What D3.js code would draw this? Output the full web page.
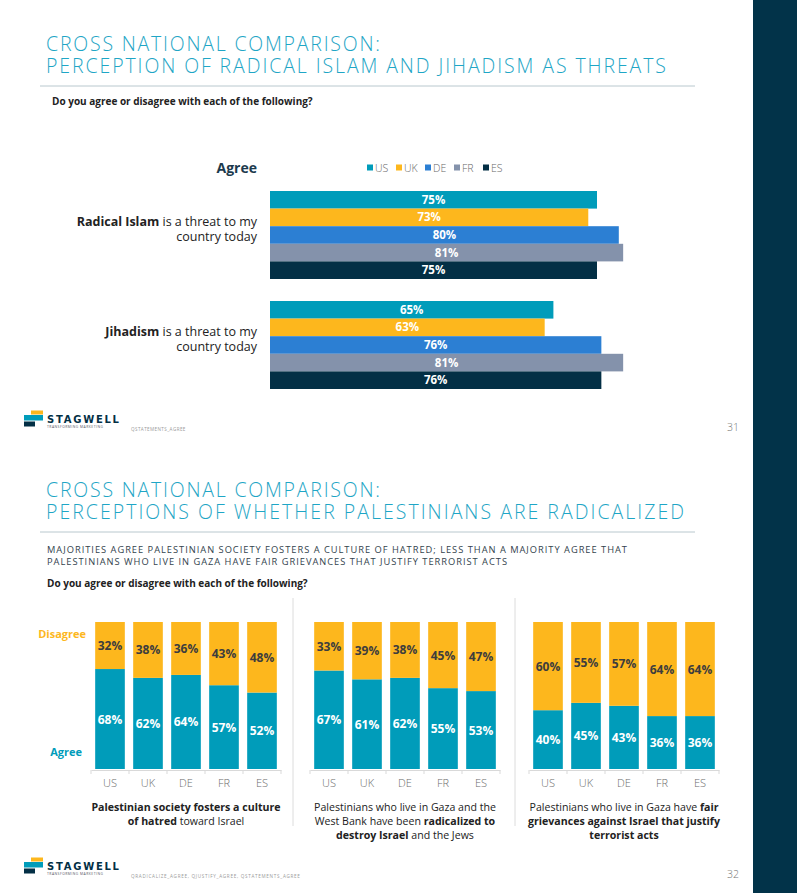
<!DOCTYPE html>
<html>
<head>
<meta charset="utf-8">
<script src="https://cdn.jsdelivr.net/npm/d3@7"></script>
<style>
  html, body { margin: 0; padding: 0; background: #fff; }
  svg { display: block; }
  text { font-family: "Open Sans", "Noto Sans", sans-serif; }
</style>
</head>
<body>
<svg id="chart" width="797" height="893"></svg>
<script>
// ---------------- DATA ----------------
const countries = ["US", "UK", "DE", "FR", "ES"];
const countryColors = ["#009cba", "#fdb71d", "#2c7fd3", "#8492ab", "#032f45"];

const threatStatements = ["Radical Islam", "Jihadism"];
const radicalIslamAgree = [75, 73, 80, 81, 75];
const jihadismAgree = [65, 63, 76, 81, 76];

const cultureAgree = [68, 62, 64, 57, 52];
const cultureDisagree = [32, 38, 36, 43, 48];
const radicalizedAgree = [67, 61, 62, 55, 53];
const radicalizedDisagree = [33, 39, 38, 45, 47];
const grievancesAgree = [40, 45, 43, 36, 36];
const grievancesDisagree = [60, 55, 57, 64, 64];

const pageTitles1 = ["CROSS NATIONAL COMPARISON:", "PERCEPTION OF RADICAL ISLAM AND JIHADISM AS THREATS"];
const pageTitles2 = ["CROSS NATIONAL COMPARISON:", "PERCEPTIONS OF WHETHER PALESTINIANS ARE RADICALIZED"];
const subtitle2 = ["MAJORITIES AGREE PALESTINIAN SOCIETY FOSTERS A CULTURE OF HATRED; LESS THAN A MAJORITY AGREE THAT",
                   "PALESTINIANS WHO LIVE IN GAZA HAVE FAIR GRIEVANCES THAT JUSTIFY TERRORIST ACTS"];
const question = "Do you agree or disagree with each of the following?";

// caption lines: arrays of [text, bold]
const captions = [
  [[["Palestinian society fosters a culture", true]], [["of hatred", true], [" toward Israel", false]]],
  [[["Palestinians who live in Gaza and the", false]], [["West Bank have been ", false], ["radicalized to", true]], [["destroy Israel", true], [" and the Jews", false]]],
  [[["Palestinians who live in Gaza have ", false], ["fair", true]], [["grievances against Israel that justify", true]], [["terrorist acts", true]]]
];

// ---------------- DRAW ----------------
const svg = d3.select("#chart");
const TEAL = "#1fa6c6", NAVY = "#032f45", ORANGE = "#fdb71d", AGREE = "#009cba";

svg.append("rect").attr("x", 753).attr("y", 0).attr("width", 44).attr("height", 893).attr("fill", "#023349");

// widen text to a target width by letter spacing (keeps font size)
function spreadText(sel, w) {
  const len = sel.node().getComputedTextLength();
  const n = sel.text().length;
  if (len < w && n > 1) sel.attr("letter-spacing", (w - len) / (n - 1));
}

function header(titles, y0, widths) {
  const tx = svg.append("text").attr("font-size", 19.5).attr("font-weight", 300).attr("fill", TEAL);
  titles.forEach((t, i) => {
    const ts = tx.append("tspan").attr("x", 46).attr("y", y0 + i * 22.5).text(t);
    spreadText(ts, widths[i]);
  });
  svg.append("line").attr("x1", 40).attr("x2", 695).attr("y1", y0 + 35.5).attr("y2", y0 + 35.5)
    .attr("stroke", "#b9c8ce").attr("stroke-width", 1);
}

function footer(y, code, page) {
  const g = svg.append("g").attr("transform", `translate(25,${y})`);
  g.append("rect").attr("x", 6).attr("y", 0.5).attr("width", 12).attr("height", 4).attr("fill", ORANGE);
  g.append("rect").attr("x", -1).attr("y", 5).attr("width", 19).attr("height", 5.5).attr("fill", AGREE);
  g.append("rect").attr("x", -1).attr("y", 11.5).attr("width", 11).attr("height", 5).attr("fill", NAVY);
  const lt = g.append("text").attr("fill", NAVY);
  const s1 = lt.append("tspan").attr("x", 22).attr("y", 13).attr("font-size", 10)
    .attr("font-family", "'DejaVu Sans', sans-serif").attr("font-weight", 700).text("STAGWELL");
  spreadText(s1, 72);
  const s2 = lt.append("tspan").attr("x", 22).attr("y", 17.8).attr("font-size", 3.4).attr("font-weight", 400)
    .attr("fill", "#556").text("TRANSFORMING MARKETING");
  spreadText(s2, 56);
  const ct = svg.append("text").attr("x", 131).attr("y", y + 20.5).attr("font-size", 4.6).attr("fill", "#9a9a9a").text(code);
  spreadText(ct, code.length * 3.2);
  svg.append("text").attr("x", 727).attr("y", y + 21).attr("font-size", 10.5).attr("font-weight", 300)
    .attr("fill", "#777").text(page);
}

// ===== Page 1 =====
header(pageTitles1, 50.5, [334, 620]);
svg.append("text").attr("x", 52).attr("y", 105).attr("font-size", 10).attr("font-weight", 700)
  .attr("fill", "#222").text(question);

svg.append("text").attr("x", 257).attr("y", 173).attr("text-anchor", "end")
  .attr("font-size", 14).attr("font-weight", 700).attr("fill", "#1c3a4d").text("Agree");

// legend
const legend = svg.append("g");
countries.forEach((c, i) => {
  const lx = 367 + i * 29;
  legend.append("rect").attr("x", lx).attr("y", 164.5).attr("width", 6).attr("height", 6).attr("fill", countryColors[i]);
  legend.append("text").attr("x", lx + 8).attr("y", 171.5).attr("font-size", 10.5).attr("font-weight", 300)
    .attr("fill", "#666").text(c);
});

const xH = d3.scaleLinear().domain([0, 100]).range([270, 706]);
const yGroup = d3.scaleBand().domain(threatStatements).range([191, 389]).paddingInner(0.2).paddingOuter(0);
const yInner = d3.scaleBand().domain(countries).range([0, yGroup.bandwidth()]);
const threatValues = [radicalIslamAgree, jihadismAgree];

threatStatements.forEach((s, gi) => {
  const g = svg.append("g").attr("transform", `translate(0,${yGroup(s)})`);
  const data = countries.map((c, i) => ({ c, v: threatValues[gi][i], color: countryColors[i] }));
  g.selectAll("rect").data(data).join("rect")
    .attr("x", xH(0)).attr("y", d => yInner(d.c))
    .attr("width", d => xH(d.v) - xH(0)).attr("height", yInner.bandwidth())
    .attr("fill", d => d.color);
  g.selectAll("text.v").data(data).join("text").attr("class", "v")
    .attr("x", d => (xH(0) + xH(d.v)) / 2).attr("y", d => yInner(d.c) + yInner.bandwidth() / 2 + 4)
    .attr("text-anchor", "middle").attr("font-size", 11.5).attr("font-weight", 700).attr("fill", "#fff")
    .text(d => d.v + "%");
  // category label
  const cy = yGroup(s) + yGroup.bandwidth() / 2;
  const t1 = svg.append("text").attr("text-anchor", "end").attr("font-size", 12.5).attr("fill", "#222");
  const l1 = t1.append("tspan").attr("x", 257).attr("y", cy - 9);
  l1.append("tspan").attr("font-weight", 700).text(s);
  l1.append("tspan").attr("font-weight", 400).text(" is a threat to my");
  t1.append("tspan").attr("x", 257).attr("y", cy + 6).attr("font-weight", 400).text("country today");
});

footer(410, "QSTATEMENTS_AGREE", "31");

// ===== Page 2 =====
header(pageTitles2, 496.5, [334, 638]);
const st = svg.append("text").attr("font-size", 9.3).attr("font-weight", 400).attr("fill", "#33434d");
subtitle2.forEach((t, i) => {
  const ts = st.append("tspan").attr("x", 47).attr("y", 552.5 + i * 12).text(t);
  spreadText(ts, i === 0 ? 580 : 460);
});
svg.append("text").attr("x", 47).attr("y", 587).attr("font-size", 10).attr("font-weight", 700)
  .attr("fill", "#222").text(question);

// separators
[293, 515].forEach(x => svg.append("line").attr("x1", x).attr("x2", x).attr("y1", 598).attr("y2", 826)
  .attr("stroke", "#dcdcdc").attr("stroke-width", 1));

svg.append("text").attr("x", 86).attr("y", 638).attr("text-anchor", "end").attr("font-size", 11)
  .attr("font-weight", 700).attr("fill", ORANGE).text("Disagree");
svg.append("text").attr("x", 82).attr("y", 756).attr("text-anchor", "end").attr("font-size", 11)
  .attr("font-weight", 700).attr("fill", AGREE).text("Agree");

const yS = d3.scaleLinear().domain([0, 100]).range([769, 622]);
const panels = [
  { agree: cultureAgree, disagree: cultureDisagree },
  { agree: radicalizedAgree, disagree: radicalizedDisagree },
  { agree: grievancesAgree, disagree: grievancesDisagree }
];

panels.forEach((p, pi) => {
  const x0 = 91 + pi * 219;
  const x = d3.scaleBand().domain(countries).range([x0, x0 + 190]).paddingInner(0.22).paddingOuter(0.11);
  const g = svg.append("g");
  const data = countries.map((c, i) => ({ c, a: p.agree[i], d: p.disagree[i] }));
  // agree
  g.selectAll("rect.a").data(data).join("rect").attr("class", "a")
    .attr("x", d => x(d.c)).attr("width", x.bandwidth())
    .attr("y", d => yS(d.a)).attr("height", d => yS(0) - yS(d.a)).attr("fill", AGREE);
  // disagree
  g.selectAll("rect.d").data(data).join("rect").attr("class", "d")
    .attr("x", d => x(d.c)).attr("width", x.bandwidth())
    .attr("y", d => yS(d.a + d.d)).attr("height", d => yS(d.a) - yS(d.a + d.d)).attr("fill", ORANGE);
  g.selectAll("text.a").data(data).join("text").attr("class", "a")
    .attr("x", d => x(d.c) + x.bandwidth() / 2).attr("y", d => (yS(0) + yS(d.a)) / 2 + 4.5)
    .attr("text-anchor", "middle").attr("font-size", 12).attr("font-weight", 700).attr("fill", "#fff")
    .text(d => d.a + "%");
  g.selectAll("text.d").data(data).join("text").attr("class", "d")
    .attr("x", d => x(d.c) + x.bandwidth() / 2).attr("y", d => (yS(d.a) + yS(d.a + d.d)) / 2 + 4.5)
    .attr("text-anchor", "middle").attr("font-size", 12).attr("font-weight", 700).attr("fill", "#3d3d3d")
    .text(d => d.d + "%");
  // axis
  const axis = d3.axisBottom(x).tickSize(0).tickPadding(9);
  const ag = svg.append("g").attr("transform", `translate(0,${yS(0) + 1})`).call(axis);
  ag.select(".domain").attr("stroke", "#d9d9d9");
  ag.selectAll("text").attr("font-size", 11).attr("font-weight", 300).attr("fill", "#6d6d6d")
    .attr("font-family", "'Open Sans', sans-serif");
  const step = x.step();
  d3.range(6).forEach(i => {
    const tx = x0 + i * step;
    ag.append("line").attr("x1", tx).attr("x2", tx).attr("y1", 0).attr("y2", 4).attr("stroke", "#d9d9d9");
  });
  // caption (one text element, one tspan per line)
  const cx = x0 + 95;
  const t = svg.append("text").attr("text-anchor", "middle").attr("font-size", 10.6).attr("fill", "#222");
  captions[pi].forEach((line, li) => {
    const lt = t.append("tspan").attr("x", cx).attr("y", 811 + li * 14);
    line.forEach(([s, b]) => lt.append("tspan").attr("font-weight", b ? 700 : 400).text(s));
  });
});

footer(857, "QRADICALIZE_AGREE, QJUSTIFY_AGREE,  QSTATEMENTS_AGREE", "32");
</script>
</body>
</html>
